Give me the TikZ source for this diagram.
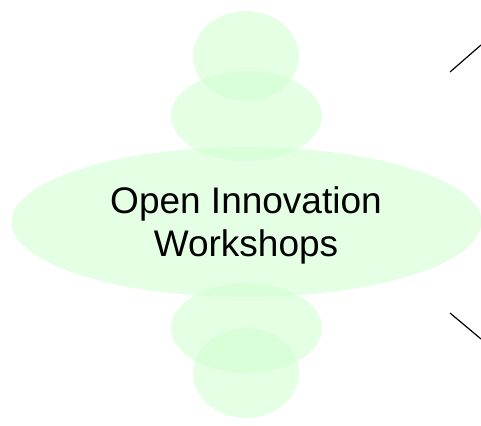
\documentclass[tikz,border=0pt]{standalone}
\usepackage{fontspec}
\setmainfont{Liberation Sans}
\usetikzlibrary{shapes.geometric}
\begin{document}
\begin{tikzpicture}[x=1pt,y=-1pt,
  blob/.style={ellipse, fill={rgb,255:red,204;green,255;blue,204}, fill opacity=0.5, draw=none, inner sep=0pt},
  link/.style={draw=black, line width=1.2pt}]
\useasboundingbox (0,0) rectangle (481,425);
\node[blob, minimum width=106pt, minimum height=90pt] (t1) at (246,56) {};
\node[blob, minimum width=151pt, minimum height=90pt] (t2) at (246.5,116) {};
\node[blob, minimum width=470pt, minimum height=150pt] (c) at (246.5,222) {};
\node[blob, minimum width=151pt, minimum height=90pt] (b2) at (246.5,328) {};
\node[blob, minimum width=106pt, minimum height=90pt] (b1) at (246,373) {};
\node[align=center, font=\fontsize{37}{43}\selectfont, text=black, inner sep=0pt] (lbl) at (246,225) {Open Innovation\\Workshops};
\coordinate (p1) at (450,72);
\coordinate (p2) at (481,45);
\coordinate (p3) at (450,313);
\coordinate (p4) at (481,339);
\draw[link] (p1) -- (p2);
\draw[link] (p3) -- (p4);
\end{tikzpicture}
\end{document}
